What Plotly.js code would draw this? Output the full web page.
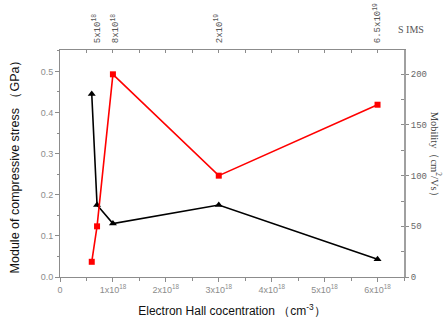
<!DOCTYPE html>
<html>
<head>
<meta charset="utf-8">
<script src="https://cdn.plot.ly/plotly-3.0.1.min.js"></script>
<style>html,body{margin:0;padding:0;background:#fff;}#chart{width:443px;height:320px;}</style>
</head>
<body>
<div id="chart"></div>
<script>
// Electron Hall concentration (cm^-3)
const stressConc = [0.6e18, 0.7e18, 1.0e18, 3.0e18, 6.0e18];
// Module of compressive stress (GPa)
const stressVals = [0.445, 0.175, 0.13, 0.175, 0.043];
// Hall concentration for mobility points
const mobConc = [0.6e18, 0.7e18, 1.0e18, 3.0e18, 6.0e18];
// Mobility (cm^2/Vs)
const mobVals = [15, 50, 200, 100, 170];
// Bottom axis ticks
const xTickVals = [0, 1e18, 2e18, 3e18, 4e18, 5e18, 6e18];
const xTickText = ['0', '1x10<sup>18</sup>', '2x10<sup>18</sup>', '3x10<sup>18</sup>', '4x10<sup>18</sup>', '5x10<sup>18</sup>', '6x10<sup>18</sup>'];
// Top (SIMS) axis labels at corresponding Hall concentrations
const simsPos = [0.7e18, 1.05e18, 3.0e18, 6.0e18];
const simsText = ['5x10<sup>18</sup>', '8x10<sup>18</sup>', '2x10<sup>19</sup>', '6.5x10<sup>19</sup>'];

const gray = '#8c8c8c';
const traces = [
  {x: stressConc, y: stressVals, type: 'scatter', mode: 'lines+markers', xaxis: 'x', yaxis: 'y',
   line: {color: '#000', width: 1.6}, marker: {symbol: 'triangle-up', size: 7, color: '#000'}, cliponaxis: false},
  {x: mobConc, y: mobVals, type: 'scatter', mode: 'lines+markers', xaxis: 'x', yaxis: 'y2',
   line: {color: '#ff0000', width: 1.6}, marker: {symbol: 'square', size: 6, color: '#ff0000'}, cliponaxis: false},
  {x: [0], y: [0], xaxis: 'x2', yaxis: 'y', mode: 'markers', marker: {opacity: 0}, hoverinfo: 'skip', showlegend: false},
  {x: [0], y: [0], xaxis: 'x3', yaxis: 'y', mode: 'markers', marker: {opacity: 0}, hoverinfo: 'skip', showlegend: false}
];

const layout = {
  width: 443, height: 320,
  margin: {l: 60, r: 39, t: 50, b: 43},
  paper_bgcolor: '#fff', plot_bgcolor: '#fff',
  showlegend: false,
  font: {family: 'Liberation Sans, Arial, sans-serif', size: 9, color: gray},
  xaxis: {
    range: [0, 6.5e18], showgrid: false, zeroline: false,
    showline: true, linecolor: gray, linewidth: 1, mirror: false,
    tickmode: 'array', tickvals: xTickVals, ticktext: xTickText,
    ticks: 'outside', ticklen: 4, tickcolor: gray,
    minor: {dtick: 0.5e18, tick0: 0, ticks: 'outside', ticklen: 3, tickcolor: gray},
    tickfont: {size: 9, color: gray},
    title: {text: 'Electron Hall cocentration （cm<sup>-3</sup>）', font: {size: 12, color: '#111'}, standoff: 12}
  },
  xaxis2: {
    overlaying: 'x', side: 'top', anchor: 'y', range: [0, 6.5e18],
    showgrid: false, zeroline: false, showline: true, linecolor: gray, linewidth: 1,
    tickmode: 'array', tickvals: simsPos, ticktext: simsText, ticks: '', tickangle: -90,
    ticklabelstandoff: 4,
    tickfont: {family: 'Liberation Mono, Courier New, monospace', size: 9, color: '#555'}
  },
  xaxis3: {
    overlaying: 'x', side: 'top', anchor: 'y', range: [0, 6.5e18],
    showgrid: false, zeroline: false, showline: false,
    tick0: 0, dtick: 0.5e18, ticks: 'inside', ticklen: 3, tickcolor: gray, showticklabels: false
  },
  yaxis: {
    range: [0, 0.552], showgrid: false, zeroline: false,
    showline: true, linecolor: gray, linewidth: 1,
    tick0: 0, dtick: 0.1, tickformat: '.1f',
    ticks: 'outside', ticklen: 4, tickcolor: gray,
    minor: {dtick: 0.05, ticks: 'outside', ticklen: 2, tickcolor: gray},
    tickfont: {size: 9, color: gray},
    title: {text: 'Module of compressive stress （GPa）', font: {size: 12.5, color: '#111'}, standoff: 18}
  },
  yaxis2: {
    overlaying: 'y', side: 'right', anchor: 'x', range: [0, 224],
    showgrid: false, zeroline: false, showline: true, linecolor: '#a0a0a0', linewidth: 2,
    tick0: 0, dtick: 50, ticks: 'outside', ticklen: 3, tickcolor: gray,
    minor: {dtick: 25, ticks: 'inside', ticklen: 3, tickcolor: gray},
    tickfont: {family: 'Liberation Mono, Courier New, monospace', size: 9, color: '#666'}
  },
  annotations: [
    {text: 'Mobility（cm<sup>2</sup>/Vs）', xref: 'paper', yref: 'paper', x: 1.093, y: 0.53,
     xanchor: 'center', yanchor: 'middle', xshift: 0,
     showarrow: false, textangle: 90, font: {family: 'Liberation Serif, Times New Roman, serif', size: 10.5, color: '#444'}},
    {text: 'S IMS', xref: 'paper', yref: 'paper', x: 1.02, y: 1, xanchor: 'center', yanchor: 'middle', yshift: 21,
     showarrow: false, font: {family: 'Liberation Serif, Times New Roman, serif', size: 10, color: '#555'}}
  ]
};

Plotly.newPlot('chart', traces, layout, {displayModeBar: false, staticPlot: true});
</script>
</body>
</html>
